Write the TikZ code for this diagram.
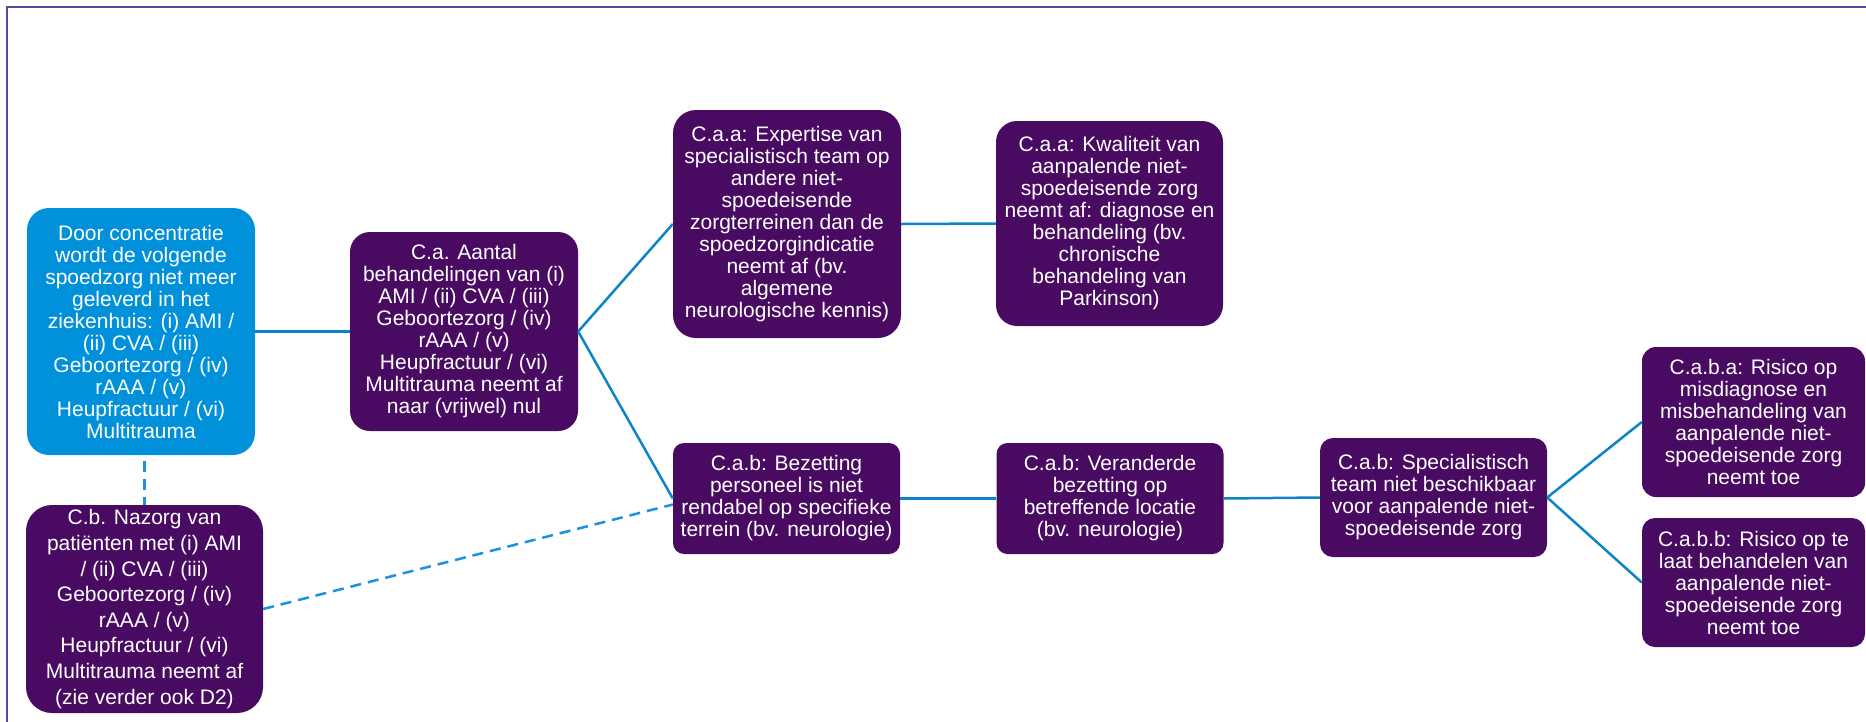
\documentclass[tikz,border=0pt]{standalone}
\usepackage{fontspec}
\setmainfont{Liberation Sans}
\definecolor{purp}{HTML}{490B62}
\definecolor{skyb}{HTML}{0091DA}
\definecolor{linec}{HTML}{0E84C8}
\definecolor{dashc}{HTML}{1A92DD}
\definecolor{framec}{HTML}{544AA0}
\begin{document}
\begin{tikzpicture}[x=1pt,y=-1pt,
  box/.style={fill=purp, text=white, rounded corners=#1, inner sep=0pt,
    align=center, font=\fontsize{21}{22}\selectfont},
  box/.default=20pt,
  link/.style={draw=linec, line width=2.5pt},
  dlink/.style={draw=dashc, line width=2.5pt, dash pattern=on 11pt off 7pt}]
\useasboundingbox (0,0) rectangle (1866,721);
\clip (0,0) rectangle (1866,721);
\fill[white] (0,0) rectangle (1866,721);
\draw[framec, line width=2pt] (7,7) rectangle (1890,745);

\node[box=22pt, fill=skyb, minimum width=228pt, minimum height=247pt] (door) at (141,331.5)
 {Door concentratie\\wordt de volgende\\spoedzorg niet meer\\geleverd in het\\ziekenhuis: (i) AMI /\\(ii) CVA / (iii)\\Geboortezorg / (iv)\\rAAA / (v)\\Heupfractuur / (vi)\\Multitrauma};
\node[box=20pt, minimum width=228pt, minimum height=199pt] (ca) at (464,331.5)
 {C.a. Aantal\\behandelingen van (i)\\AMI / (ii) CVA / (iii)\\Geboortezorg / (iv)\\rAAA / (v)\\Heupfractuur / (vi)\\Multitrauma neemt af\\naar (vrijwel) nul};
\node[box=23pt, minimum width=228pt, minimum height=228pt] (caa1) at (787,224)
 {C.a.a: Expertise van\\specialistisch team op\\andere niet-\\spoedeisende\\zorgterreinen dan de\\spoedzorgindicatie\\neemt af (bv.\\algemene\\neurologische kennis)};
\node[box=21pt, minimum width=227pt, minimum height=205pt] (caa2) at (1109.5,223.5)
 {C.a.a: Kwaliteit van\\aanpalende niet-\\spoedeisende zorg\\neemt af: diagnose en\\behandeling (bv.\\chronische\\behandeling van\\Parkinson)};
\node[box=11pt, minimum width=227pt, minimum height=111pt] (cab1) at (786.5,498.5)
 {C.a.b: Bezetting\\personeel is niet\\rendabel op specifieke\\terrein (bv. neurologie)};
\node[box=11pt, minimum width=227pt, minimum height=111pt] (cab2) at (1110,498.5)
 {C.a.b: Veranderde\\bezetting op\\betreffende locatie\\(bv. neurologie)};
\node[box=13pt, minimum width=227pt, minimum height=119pt] (cab3) at (1433.5,497.5)
 {C.a.b: Specialistisch\\team niet beschikbaar\\voor aanpalende niet-\\spoedeisende zorg};
\node[box=14pt, minimum width=223pt, minimum height=150pt] (caba) at (1753.5,422)
 {C.a.b.a: Risico op\\misdiagnose en\\misbehandeling van\\aanpalende niet-\\spoedeisende zorg\\neemt toe};
\node[box=13pt, minimum width=223pt, minimum height=129pt] (cabb) at (1753.5,582.5)
 {C.a.b.b: Risico op te\\laat behandelen van\\aanpalende niet-\\spoedeisende zorg\\neemt toe};
\node[box=26pt, minimum width=237pt, minimum height=208pt, font=\fontsize{21}{25.6}\selectfont] (cb) at (144.5,609)
 {C.b. Nazorg van\\patiënten met (i) AMI\\/ (ii) CVA / (iii)\\Geboortezorg / (iv)\\rAAA / (v)\\Heupfractuur / (vi)\\Multitrauma neemt af\\(zie verder ook D2)};

\draw[link] (door.east) -- (ca.west);
\draw[link] (ca.east) -- (caa1.west);
\draw[link] (ca.east) -- (cab1.west);
\draw[link] (caa1.east) -- (caa2.west);
\draw[link] (cab1.east) -- (cab2.west);
\draw[link] (cab2.east) -- (cab3.west);
\draw[link] (cab3.east) -- (caba.west);
\draw[link] (cab3.east) -- (cabb.west);
\draw[dlink] ([yshift=-6pt]door.south -| cb.north) -- (cb.north);
\draw[dlink] (cb.east) -- ([yshift=-6pt]cab1.west);
\end{tikzpicture}
\end{document}
